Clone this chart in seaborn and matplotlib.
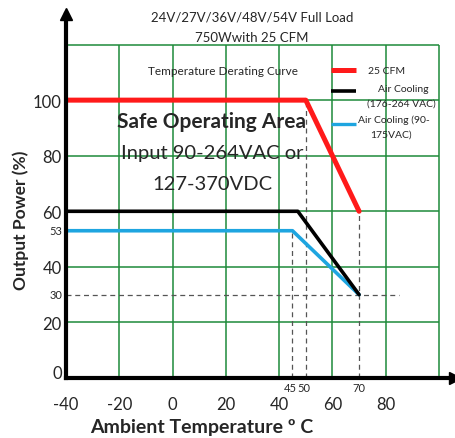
import matplotlib
matplotlib.use("Agg")
import matplotlib.pyplot as plt
import matplotlib.transforms as mtransforms
import seaborn as sns

# Derating curves (ambient temperature degC, output power %)
temp_25cfm = [-40, 50, 70]
power_25cfm = [100, 100, 60]
temp_air_hi = [-40, 47, 70]
power_air_hi = [60, 60, 30]
temp_air_lo = [-40, 45, 70]
power_air_lo = [53, 53, 30]

x_ticks = [-40, -20, 0, 20, 40, 60, 80, 100]
x_tick_labels = ["-40", "-20", "0", "20", "40", "60", "80", ""]
y_ticks = [0, 20, 40, 60, 80, 100, 120]
y_tick_labels = ["0", "20", "40", "60", "80", "100", ""]

sns.set_style("white")
plt.rcParams["font.family"] = ["Lato", "DejaVu Sans"]

RED = "#ff1a1a"
BLUE = "#1ea5e0"
GREEN = "#1e8a3a"

fig = plt.figure(figsize=(4.56, 4.39), dpi=100)
ax = fig.add_axes([66 / 456, 60 / 439, 389 / 456, 364 / 439])
ax.set_xlim(-40, 106)
ax.set_ylim(0, 131)

# green grid box
ax.vlines(x_ticks, 0, 120, color=GREEN, lw=1.1, zorder=1)
ax.hlines(y_ticks, -40, 100, color=GREEN, lw=1.1, zorder=1)

# dashed guides
dash = dict(color="#555555", lw=0.9, ls=(0, (4, 3)), zorder=2)
ax.vlines(temp_air_lo[1], 0, power_air_lo[1], **dash)
ax.vlines(temp_25cfm[1], 0, power_25cfm[1], **dash)
ax.vlines(temp_25cfm[2], 0, power_25cfm[2], **dash)
ax.hlines(power_air_lo[2], -40, 85, **dash)

sns.lineplot(x=temp_air_lo, y=power_air_lo, color=BLUE, lw=2.6, ax=ax, zorder=3)
sns.lineplot(x=temp_air_hi, y=power_air_hi, color="black", lw=2.6, ax=ax, zorder=4)
sns.lineplot(x=temp_25cfm, y=power_25cfm, color=RED, lw=3.6, ax=ax, zorder=5)

# axes with arrows
for s in ["top", "right"]:
    ax.spines[s].set_visible(False)
for s in ["left", "bottom"]:
    ax.spines[s].set_linewidth(3)
    ax.spines[s].set_color("black")
    ax.spines[s].set_zorder(6)
ax.plot(1, 0, ">", color="black", ms=9, transform=ax.transAxes, clip_on=False)
ax.plot(0, 1, "^", color="black", ms=9, transform=ax.transAxes, clip_on=False)

ax.set_xticks(x_ticks)
ax.set_xticklabels(x_tick_labels, fontsize=12)
ax.set_yticks(y_ticks)
ax.set_yticklabels(y_tick_labels, fontsize=12)
ax.tick_params(axis="x", length=0, pad=13)
ax.tick_params(axis="y", length=0, pad=3)
# the "0" label sits a little above the axis in the original
lbl0 = ax.get_yticklabels()[0]
lbl0.set_transform(lbl0.get_transform() +
                   mtransforms.ScaledTranslation(0, 6 / 100, fig.dpi_scale_trans))

# small extra labels
ax.text(-41.5, 53, "53", fontsize=8, ha="right", va="center")
ax.text(-41.5, 30, "30", fontsize=8, ha="right", va="center")
ax.text(44.3, -3.3, "45", fontsize=8, ha="center", va="center")
ax.text(49.3, -3.3, "50", fontsize=8, ha="center", va="center")
ax.text(70, -3.3, "70", fontsize=8, ha="center", va="center")

ax.set_xlabel("Ambient Temperature º C", fontsize=14, fontweight="bold")
ax.set_ylabel("Output Power (%)", fontsize=12.5, fontweight="bold")
ax.xaxis.label.set_va("center")
ax.yaxis.label.set_va("center")
ax.xaxis.set_label_coords((202 - 66) / 389, (379 - 428) / 364)
ax.yaxis.set_label_coords((21 - 66) / 389, (379 - 220) / 364)


def axpt(px, py):
    return ((px - 66) / 389, (379 - py) / 364)


# titles
fig.text(252 / 456, 1 - 17 / 439, "24V/27V/36V/48V/54V Full Load", fontsize=9.5,
         ha="center", va="center")
fig.text(252 / 456, 1 - 38 / 439, "750Wwith 25 CFM", fontsize=9.5,
         ha="center", va="center")
ax.text(*axpt(223, 71), "Temperature Derating Curve", fontsize=8.5,
        ha="center", va="center", transform=ax.transAxes)

# legend drawn by hand
for py, col, lw in [(71, RED, 3.6), (92, "black", 2.6), (125, BLUE, 2.4)]:
    x0, y0 = axpt(331, py)
    x1, _ = axpt(356, py)
    ax.plot([x0, x1], [y0, y0], color=col, lw=lw, transform=ax.transAxes,
            clip_on=False, solid_capstyle="butt")
ax.text(*axpt(368, 71), "25 CFM", fontsize=7.5, ha="left", va="center",
        transform=ax.transAxes)
ax.text(*axpt(403, 89), "Air Cooling", fontsize=7.5, ha="center", va="center",
        transform=ax.transAxes)
ax.text(*axpt(401, 104), "(176-264 VAC)", fontsize=7.5, ha="center", va="center",
        transform=ax.transAxes)
ax.text(*axpt(394, 120), "Air Cooling (90-", fontsize=7.5, ha="center", va="center",
        transform=ax.transAxes)
ax.text(*axpt(391, 135), "175VAC)", fontsize=7.5, ha="center", va="center",
        transform=ax.transAxes)

# safe operating area note
ax.text(*axpt(212, 122), "Safe Operating Area", fontsize=15, fontweight="bold",
        ha="center", va="center", transform=ax.transAxes, zorder=7)
ax.text(*axpt(212, 154), "Input 90-264VAC or", fontsize=14.5,
        ha="center", va="center", transform=ax.transAxes, zorder=7)
ax.text(*axpt(212, 185), "127-370VDC", fontsize=14.5,
        ha="center", va="center", transform=ax.transAxes, zorder=7)

fig.savefig("out.png", dpi=100)
